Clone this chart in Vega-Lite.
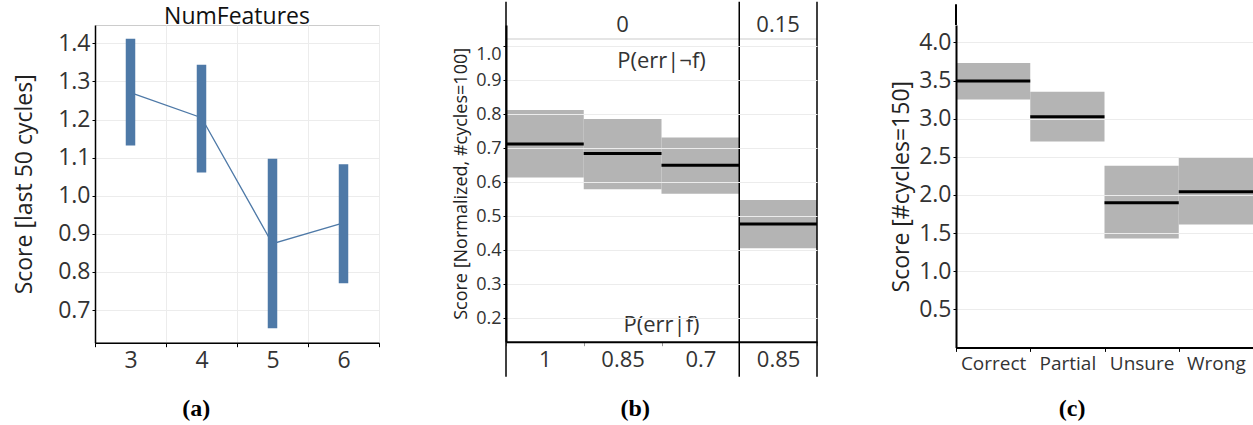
{
  "$schema": "https://vega.github.io/schema/vega-lite/v6.json",
  "background": "white",
  "padding": {"left": 12, "top": 0, "right": 0, "bottom": 0},
  "spacing": 72,
  "config": {
    "font": "Open Sans",
    "axis": {"labelFont": "Open Sans", "titleFont": "Open Sans", "titleFontWeight": "normal", "titleColor": "#222", "labelColor": "#333", "labelOverlap": false},
    "title": {"font": "Open Sans"}
  },
  "hconcat": [
    {
      "title": {"text": "(a)", "orient": "bottom", "frame": "bounds", "anchor": "middle", "font": "Liberation Serif", "fontSize": 24, "fontWeight": "bold", "color": "#000", "offset": 24},
      "vconcat": [
        {
          "width": 284,
          "height": 317.7,
          "view": {"stroke": "#cccccc"},
          "title": {"text": "NumFeatures", "fontSize": 23, "fontWeight": "normal", "color": "#111", "offset": -4, "anchor": "middle"},
          "data": {"values": [
            {"nf": "3", "mean": 1.271, "lo": 1.132, "hi": 1.412},
            {"nf": "4", "mean": 1.205, "lo": 1.061, "hi": 1.344},
            {"nf": "5", "mean": 0.874, "lo": 0.652, "hi": 1.097},
            {"nf": "6", "mean": 0.929, "lo": 0.770, "hi": 1.083}
          ]},
          "encoding": {
            "x": {"field": "nf", "type": "nominal", "sort": null,
              "scale": {"paddingInner": 0, "paddingOuter": 0},
              "axis": {"title": null, "labelAngle": 0, "tickBand": "extent", "labelFontSize": 23, "domainColor": "#000", "domainWidth": 1.5, "tickColor": "#000", "tickSize": 4, "labelPadding": 3, "grid": true, "gridColor": "#ececec"}}
          },
          "layer": [
            {
              "mark": {"type": "line", "color": "#4e79a7", "strokeWidth": 1.3},
              "encoding": {
                "y": {"field": "mean", "type": "quantitative",
                  "scale": {"domain": [0.6142, 1.4483], "nice": false, "zero": false},
                  "axis": {
                    "title": "Score [last 50 cycles]",
                    "titleFontSize": 23,
                    "titleX": -59,
                    "titleBaseline": "bottom",
                    "values": [0.7, 0.8, 0.9, 1.0, 1.1, 1.2, 1.3, 1.4],
                    "format": ".1f",
                    "labelOverlap": false,
                    "labelFontSize": 23,
                    "labelPadding": 2,
                    "domainColor": "#000",
                    "domainWidth": 1.5,
                    "tickSize": 3,
                    "tickColor": "#000",
                    "gridColor": "#ececec"
                  }}
              }
            },
            {
              "mark": {"type": "bar", "color": "#4e79a7", "size": 9.5},
              "encoding": {
                "y": {"field": "lo", "type": "quantitative"},
                "y2": {"field": "hi"}
              }
            }
          ]
        }
      ]
    },
    {
      "title": {"text": "(b)", "orient": "bottom", "frame": "bounds", "anchor": "middle", "font": "Liberation Serif", "fontSize": 24, "fontWeight": "bold", "color": "#000", "offset": 20},
      "vconcat": [
        {
          "width": 311,
          "height": 316.7,
          "view": {"stroke": null},
          "data": {"values": [
            {"group": "0 / 1", "perr_not_f": "0", "perr_f": "1", "mean": 0.712, "lo": 0.614, "hi": 0.812},
            {"group": "0 / 0.85", "perr_not_f": "0", "perr_f": "0.85", "mean": 0.684, "lo": 0.579, "hi": 0.786},
            {"group": "0 / 0.7", "perr_not_f": "0", "perr_f": "0.7", "mean": 0.650, "lo": 0.566, "hi": 0.731},
            {"group": "0.15 / 0.85", "perr_not_f": "0.15", "perr_f": "0.85", "mean": 0.477, "lo": 0.406, "hi": 0.548}
          ]},
          "layer": [
            {
              "mark": {"type": "bar", "color": "#b4b4b4"},
              "encoding": {
                "x": {"field": "group", "type": "nominal",
                  "scale": {"domain": ["0 / 1", "0 / 0.85", "0 / 0.7", "0.15 / 0.85"], "paddingInner": 0, "paddingOuter": 0},
                  "axis": {"title": null, "orient": "bottom", "labelAngle": 0, "tickBand": "extent", "labelExpr": "split(datum.label, ' / ')[1]", "labelFontSize": 22, "domainColor": "#000", "domainWidth": 2, "tickColor": "#999", "tickSize": 4, "labelPadding": 4, "grid": false}},
                "y": {"field": "lo", "type": "quantitative",
                  "scale": {"domain": [0.1316, 1.0617], "nice": false, "zero": false},
                  "axis": {
                    "title": "Score [Normalized, #cycles=100]",
                    "titleFontSize": 18,
                    "titlePadding": 5,
                    "values": [0.2, 0.3, 0.4, 0.5, 0.6, 0.7, 0.8, 0.9, 1.0],
                    "format": ".1f",
                    "labelFontSize": 18,
                    "labelPadding": 2,
                    "labelOffset": {"condition": {"test": "datum.value > 0.99", "value": 8}, "value": 0},
                    "domainColor": "#000",
                    "domainWidth": 2,
                    "tickSize": 3,
                    "tickColor": "#000",
                    "gridColor": "#ececec",
                    "zindex": 1
                  }},
                "y2": {"field": "hi"}
              }
            },
            {
              "mark": {"type": "tick", "color": "#000", "opacity": 1, "thickness": 3, "size": 77.75},
              "encoding": {
                "x": {"field": "group", "type": "nominal",
                  "axis": {"title": null, "orient": "top", "labelAngle": 0, "labelExpr": "datum.label == '0 / 0.85' ? '0' : datum.label == '0.15 / 0.85' ? '0.15' : ''", "labelFontSize": 22, "labelBaseline": "middle", "domain": false, "ticks": false, "grid": false, "labelPadding": 1}},
                "y": {"field": "mean", "type": "quantitative", "axis": null}
              }
            },
            {
              "data": {"values": [{"level": "header"}]},
              "mark": {"type": "rule", "color": "#cccccc", "strokeWidth": 1.2},
              "encoding": {
                "y": {"datum": 1.0206, "type": "quantitative", "axis": null}
              }
            },
            {
              "data": {"values": [{"group": "0 / 1"}, {"group": "0.15 / 0.85"}]},
              "mark": {"type": "rule", "color": "#000", "strokeWidth": 1.5},
              "encoding": {
                "x": {"field": "group", "type": "nominal", "bandPosition": 0, "axis": null},
                "y": {"datum": 1.1301, "type": "quantitative", "axis": null},
                "y2": {"datum": 0.0288}
              }
            },
            {
              "data": {"values": [{"group": "0.15 / 0.85"}]},
              "mark": {"type": "rule", "color": "#000", "strokeWidth": 1.5},
              "encoding": {
                "x": {"field": "group", "type": "nominal", "bandPosition": 1, "axis": null},
                "y": {"datum": 1.1301, "type": "quantitative", "axis": null},
                "y2": {"datum": 0.0288}
              }
            },
            {
              "data": {"values": [{"label": "P(err|¬f)", "at": "0 / 0.7"}]},
              "mark": {"type": "text", "fontSize": 22, "color": "#333", "baseline": "middle", "align": "center"},
              "encoding": {
                "x": {"field": "at", "type": "nominal", "bandPosition": 0, "axis": null},
                "y": {"datum": 0.956, "type": "quantitative", "axis": null},
                "text": {"field": "label"}
              }
            },
            {
              "data": {"values": [{"label": "P(err|f)", "at": "0 / 0.7"}]},
              "mark": {"type": "text", "fontSize": 22, "color": "#333", "baseline": "middle", "align": "center"},
              "encoding": {
                "x": {"field": "at", "type": "nominal", "bandPosition": 0, "axis": null},
                "y": {"datum": 0.18, "type": "quantitative", "axis": null},
                "text": {"field": "label"}
              }
            }
          ],
          "resolve": {"axis": {"x": "independent", "y": "independent"}}
        }
      ]
    },
    {
      "title": {"text": "(c)", "orient": "bottom", "frame": "bounds", "anchor": "middle", "font": "Liberation Serif", "fontSize": 24, "fontWeight": "bold", "color": "#000", "offset": 24},
      "vconcat": [
        {
          "width": 297,
          "height": 322.4,
          "view": {"stroke": null},
          "data": {"values": [
            {"answer": "Correct", "mean": 3.493, "lo": 3.252, "hi": 3.730},
            {"answer": "Partial", "mean": 3.025, "lo": 2.701, "hi": 3.353},
            {"answer": "Unsure", "mean": 1.896, "lo": 1.428, "hi": 2.382},
            {"answer": "Wrong", "mean": 2.041, "lo": 1.612, "hi": 2.487}
          ]},
          "encoding": {
            "x": {"field": "answer", "type": "nominal", "sort": null,
              "scale": {"paddingInner": 0, "paddingOuter": 0},
              "axis": {"title": null, "labelAngle": 0, "tickBand": "extent", "labelFontSize": 19, "domainColor": "#000", "domainWidth": 2, "tickColor": "#000", "tickSize": 4, "labelPadding": 3, "grid": false}}
          },
          "layer": [
            {
              "mark": {"type": "bar", "color": "#b4b4b4"},
              "encoding": {
                "y": {"field": "lo", "type": "quantitative",
                  "scale": {"domain": [0, 4.2283], "nice": false},
                  "axis": {
                    "title": "Score [#cycles=150]",
                    "titleFontSize": 23,
                    "titlePadding": 5,
                    "values": [0.5, 1.0, 1.5, 2.0, 2.5, 3.0, 3.5, 4.0],
                    "format": ".1f",
                    "labelFontSize": 23,
                    "labelPadding": 2,
                    "domainColor": "#000",
                    "domainWidth": 2,
                    "tickSize": 3,
                    "tickColor": "#000",
                    "gridColor": "#ececec",
                    "gridOpacity": {"condition": {"test": "datum.value == 3.5", "value": 0}, "value": 1},
                    "zindex": 1
                  }},
                "y2": {"field": "hi"}
              }
            },
            {
              "mark": {"type": "tick", "color": "#000", "opacity": 1, "thickness": 3, "size": 74.25},
              "encoding": {
                "y": {"field": "mean", "type": "quantitative"}
              }
            },
            {
              "data": {"values": [{"answer": "Correct"}]},
              "mark": {"type": "rule", "color": "#000", "strokeWidth": 2},
              "encoding": {
                "x": {"field": "answer", "type": "nominal", "bandPosition": 0},
                "y": {"datum": 4.5, "type": "quantitative"},
                "y2": {"datum": 4.2283}
              }
            }
          ]
        }
      ]
    }
  ]
}
